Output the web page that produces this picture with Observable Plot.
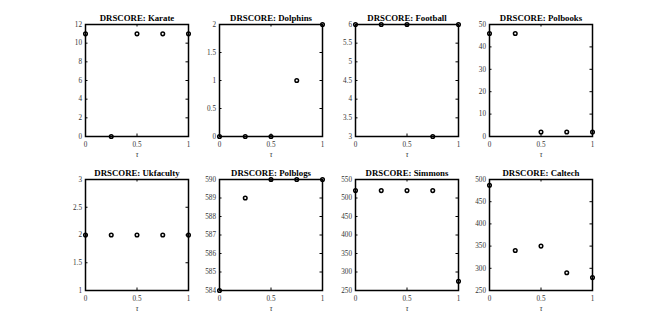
<!DOCTYPE html>
<html><head><meta charset="utf-8">
<script src="https://cdn.jsdelivr.net/npm/d3@7"></script>
<script src="https://cdn.jsdelivr.net/npm/@observablehq/plot@0.6"></script>
<style>
body{margin:0;background:#fff}
#chart{position:relative;width:654px;height:327px;overflow:hidden}
#chart svg{position:absolute}
</style>
</head><body><div id="chart"></div>
<script>
const tau = [0, 0.25, 0.5, 0.75, 1];
const xTicks = [0, 0.5, 1];
const titles = ["DRSCORE: Karate", "DRSCORE: Dolphins", "DRSCORE: Football", "DRSCORE: Polbooks",
                "DRSCORE: Ukfaculty", "DRSCORE: Polblogs", "DRSCORE: Simmons", "DRSCORE: Caltech"];
const karate    = [11, 0, 11, 11, 11];
const dolphins  = [0, 0, 0, 1, 2];
const football  = [6, 6, 6, 3, 6];
const polbooks  = [46, 46, 2, 2, 2];
const ukfaculty = [2, 2, 2, 2, 2];
const polblogs  = [584, 589, 590, 590, 590];
const simmons   = [520, 520, 520, 520, 275];
const caltech   = [487, 340, 350, 290, 279];
const yDomains = [[0, 12], [0, 2], [3, 6], [0, 50], [1, 3], [584, 590], [250, 550], [250, 500]];
const yTicks = [
  [0, 2, 4, 6, 8, 10, 12],
  [0, 0.5, 1, 1.5, 2],
  [3, 3.5, 4, 4.5, 5, 5.5, 6],
  [0, 10, 20, 30, 40, 50],
  [1, 1.5, 2, 2.5, 3],
  [584, 585, 586, 587, 588, 589, 590],
  [250, 300, 350, 400, 450, 500, 550],
  [250, 300, 350, 400, 450, 500]
];
const series = [karate, dolphins, football, polbooks, ukfaculty, polblogs, simmons, caltech];

const frameLefts = [85, 219, 355, 489];
const frameW = 103;
const rows = [{top: 24, h: 112}, {top: 179, h: 111}];
const mL = 30, mR = 6, mT = 24, mB = 30, tk = 2.5;

const chart = document.getElementById("chart");
series.forEach((vals, i) => {
  const row = rows[Math.floor(i / 4)];
  const left = frameLefts[i % 4];
  const data = tau.map((t, j) => ({t, v: vals[j]}));
  const fmt = d => String(d);
  const p = Plot.plot({
    width: mL + frameW + mR,
    height: mT + row.h + mB,
    marginLeft: mL, marginRight: mR, marginTop: mT, marginBottom: mB,
    x: {domain: [0, 1]},
    y: {domain: yDomains[i]},
    style: {fontFamily: "'Liberation Serif', serif", fontSize: "7.2px", color: "#262626", background: "transparent", overflow: "visible"},
    marks: [
      Plot.axisX(xTicks, {anchor: "bottom", tickSize: 0, tickPadding: 5, tickFormat: fmt, label: null, fill: "#333"}),
      Plot.axisY(yTicks[i], {anchor: "left", tickSize: 0, tickPadding: 3.5, tickFormat: fmt, label: null, fill: "#333"}),
      Plot.tickX(xTicks, {x: d => d, insetTop: row.h - tk, stroke: "#000", strokeWidth: 1}),
      Plot.tickX(xTicks, {x: d => d, insetBottom: row.h - tk, stroke: "#000", strokeWidth: 1}),
      Plot.tickY(yTicks[i], {y: d => d, insetRight: frameW - tk, stroke: "#000", strokeWidth: 1}),
      Plot.tickY(yTicks[i], {y: d => d, insetLeft: frameW - tk, stroke: "#000", strokeWidth: 1}),
      Plot.frame({stroke: "#000", strokeWidth: 1.5}),
      Plot.dot(data, {x: "t", y: "v", r: 1.8, stroke: "#000", strokeWidth: 1.5, fill: "none"}),
      Plot.text([titles[i]], {frameAnchor: "top", lineAnchor: "bottom", dy: -4, fontWeight: "bold", fontSize: 8.8, fill: "#000"}),
      Plot.text(["τ"], {frameAnchor: "bottom", lineAnchor: "middle", dy: 18, fontStyle: "italic", fontSize: 7.5, fill: "#333"})
    ]
  });
  p.style.left = (left - mL) + "px";
  p.style.top = (row.top - mT) + "px";
  chart.appendChild(p);
});
</script>
</body></html>
